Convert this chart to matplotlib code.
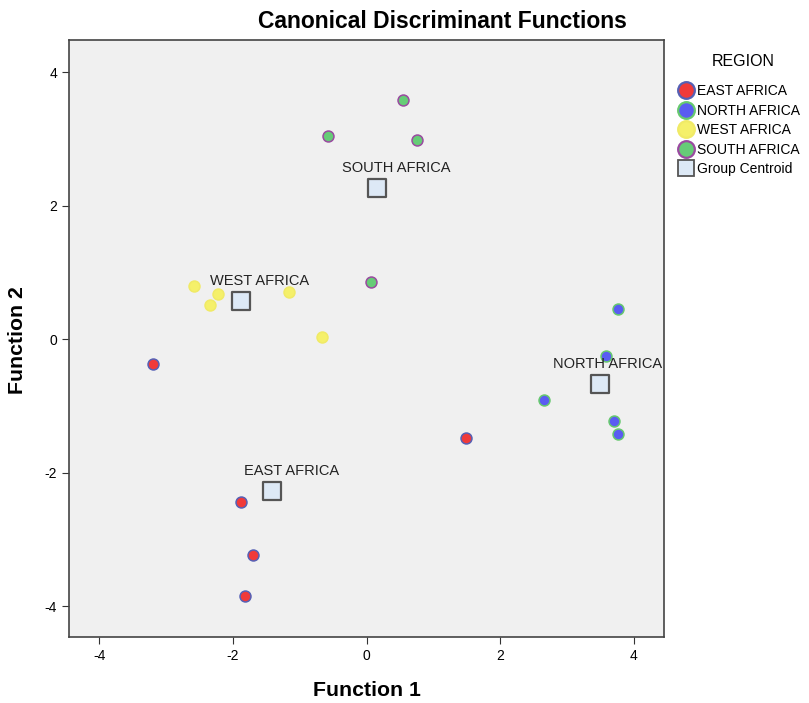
import numpy as np
import matplotlib
matplotlib.use("Agg")
import matplotlib.pyplot as plt
from matplotlib.lines import Line2D

plt.rcParams['font.family'] = ['Liberation Sans', 'DejaVu Sans']
plt.rcParams['axes.unicode_minus'] = False

# group cases (Function 1, Function 2)
east_x = [-3.19, -1.88, -1.70, -1.82, 1.49]
east_y = [-0.37, -2.44, -3.23, -3.85, -1.48]
north_x = [3.76, 3.58, 2.66, 3.70, 3.76]
north_y = [0.45, -0.25, -0.91, -1.23, -1.42]
west_x = [-2.58, -2.22, -2.34, -1.16, -0.66]
west_y = [0.79, 0.67, 0.51, 0.70, 0.03]
south_x = [0.54, -0.58, 0.75, 0.06]
south_y = [3.58, 3.04, 2.98, 0.85]

regions = ['EAST AFRICA', 'NORTH AFRICA', 'WEST AFRICA', 'SOUTH AFRICA']
centroid_x = [-1.42, 3.49, -1.87, 0.16]
centroid_y = [-2.28, -0.67, 0.57, 2.26]
label_x = [-1.12, 3.60, -1.60, 0.45]
label_y = [-1.98, -0.37, 0.87, 2.56]

fills = ['#f03a3a', '#5a5cf2', '#f5f06a', '#66cc77']
edges = ['#5560b5', '#66c96e', '#f0ea66', '#9a4aa0']

fig = plt.figure(figsize=(8.09, 7.03), dpi=100)
ax = fig.add_axes([69/809, 1-637/703, 595/809, 597/703])
ax.set_facecolor('#f0f0f0')

groups = [(east_x, east_y), (north_x, north_y), (west_x, west_y), (south_x, south_y)]
for (gx, gy), fc, ec in zip(groups, fills, edges):
    ax.scatter(gx, gy, s=62, c=fc, edgecolors=ec, linewidths=1.1, zorder=3)

ax.scatter(centroid_x, centroid_y, s=150, marker='s', c='#dde9f6',
           edgecolors='#555555', linewidths=1.6, zorder=4)
for name, lx, ly in zip(regions, label_x, label_y):
    ax.text(lx, ly, name, ha='center', va='center', fontsize=10.5, color='#222222', zorder=5)

ax.set_xlim(-4.45, 4.45)
ax.set_ylim(-4.46, 4.48)
ax.set_xticks([-4, -2, 0, 2, 4])
ax.set_yticks([-4, -2, 0, 2, 4])
ax.tick_params(direction='out', length=5, labelsize=10, color='#333333')
for s in ax.spines.values():
    s.set_color('#444444')
    s.set_linewidth(1.2)

fig.text(442/809, 1-22/703, 'Canonical Discriminant Functions', ha='center', va='center',
         fontsize=16.5, fontweight='bold')
fig.text(367/809, 1-691/703, 'Function 1', ha='center', va='center', fontsize=15.3, fontweight='bold')
fig.text(18/809, 1-340/703, 'Function 2', ha='center', va='center', rotation=90,
         fontsize=15.3, fontweight='bold')

fig.text(743/809, 1-62/703, 'REGION', ha='center', va='center', fontsize=11.5)
handles = [Line2D([], [], marker='o', ls='', markersize=12, markerfacecolor=fc,
                  markeredgecolor=ec, markeredgewidth=1.6) for fc, ec in zip(fills, edges)]
handles.append(Line2D([], [], marker='s', ls='', markersize=11, markerfacecolor='#dde9f6',
                      markeredgecolor='#555555', markeredgewidth=1.3))
leg = fig.legend(handles, regions + ['Group Centroid'], loc='upper left',
                 bbox_to_anchor=(671/809, 1-77/703), frameon=False,
                 fontsize=10, handletextpad=0.15, labelspacing=0.4,
                 handlelength=1.2, borderpad=0)

fig.savefig('out.png', dpi=100)
